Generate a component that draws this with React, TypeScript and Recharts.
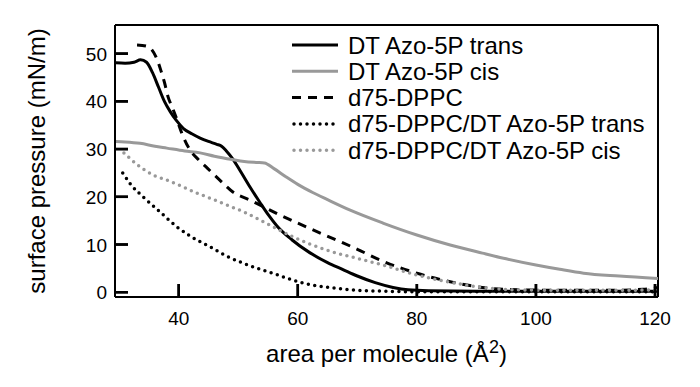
import { LineChart, Line, XAxis, YAxis, Legend, CartesianGrid } from "recharts";

// area per molecule (Å²) -> surface pressure (mN/m)
const transArea = [29.4, 31, 32.5, 33.6, 34.6, 35.6, 36.6, 37.6, 38.6, 39.6, 40.8, 42.2, 43.6, 45, 46.4, 47.2, 48, 49.1, 50.4, 52, 53.7, 55, 56.5, 59, 62, 65, 67.5, 70, 73, 76, 78.5, 82, 90, 100, 110, 120.5];
const transP = [48.1, 48, 48.2, 48.7, 48.2, 46, 43, 40, 37.8, 36, 34.3, 33.2, 32.3, 31.6, 31, 30.6, 29.6, 27.9, 25.3, 22, 18.7, 16.3, 13.9, 11, 8.3, 6.2, 4.8, 3.4, 2, 1, 0.5, 0.3, 0.2, 0.2, 0.2, 0.2];

const cisArea = [29.4, 31, 33.5, 36, 38, 41, 43.6, 46, 49, 51, 53, 54.4, 56, 58, 60, 62.5, 65, 68.8, 74.3, 80, 85.6, 91, 95, 100, 104, 108, 114, 120.5];
const cisP = [31.6, 31.5, 31.2, 30.6, 30.2, 29.6, 29.2, 28.5, 27.8, 27.4, 27.2, 27.1, 25.9, 24.2, 22.6, 20.9, 19.4, 17.2, 14.5, 12, 9.9, 8.2, 7, 5.7, 4.8, 4, 3.4, 2.9];

const dppcArea = [33, 34.5, 35.5, 36.3, 37, 37.6, 38.2, 39, 39.7, 40.5, 41.9, 43.3, 44.8, 46.9, 49.1, 52, 57, 62.1, 67.7, 70, 74.3, 80, 85.6, 91, 97, 105, 112, 118, 120.5];
const dppcP = [51.8, 51.6, 50.8, 49, 46.5, 44, 41, 38.5, 36.2, 33.4, 29.8, 27.8, 26, 23.5, 21, 19.3, 16.2, 13.3, 10.3, 9, 6.5, 4, 2.2, 1, 0.5, 0.4, 0.4, 0.6, 1];

const mixTransArea = [30.6, 32, 34, 36.9, 39.7, 42, 45.3, 48, 50.8, 53.5, 56.5, 59, 61, 63, 66, 70, 75, 80, 90, 100, 110, 120.5];
const mixTransP = [25, 22.5, 20, 16.8, 13.7, 11.7, 9.5, 7.6, 6.1, 4.9, 3.7, 2.6, 1.9, 1.4, 0.9, 0.4, 0.2, 0.1, 0.1, 0.1, 0.1, 0.1];

const mixCisArea = [30.8, 33.5, 36, 38, 40.5, 43, 45.5, 48, 51, 53.7, 56.5, 59.2, 62, 64.9, 70, 74.3, 80, 85.6, 91, 97, 105, 112, 120.5];
const mixCisP = [29.2, 26.3, 24.4, 23.5, 22.2, 20.8, 19.6, 18.3, 16.8, 15.1, 13.3, 11.6, 10.1, 8.8, 7.1, 5.7, 3.6, 2.1, 1, 0.5, 0.4, 0.4, 0.5];

const xTicks = [40, 60, 80, 100, 120];
const yTicks = [0, 10, 20, 30, 40, 50];

const toPoints = (xs: number[], ys: number[]) => xs.map((a, i) => ({ a, v: ys[i] }));

const series = [
  { name: "DT Azo-5P trans", data: toPoints(transArea, transP), color: "#000", width: 3, dash: undefined, cap: "butt" },
  { name: "DT Azo-5P cis", data: toPoints(cisArea, cisP), color: "#999", width: 3, dash: undefined, cap: "butt" },
  { name: "d75-DPPC", data: toPoints(dppcArea, dppcP), color: "#000", width: 3, dash: "9 7", cap: "butt" },
  { name: "d75-DPPC/DT Azo-5P trans", data: toPoints(mixTransArea, mixTransP), color: "#000", width: 3.5, dash: "0 6.5", cap: "round" },
  { name: "d75-DPPC/DT Azo-5P cis", data: toPoints(mixCisArea, mixCisP), color: "#999", width: 3.5, dash: "0 6.5", cap: "round" },
];

const FONT = "'Liberation Sans', Arial, Helvetica, sans-serif";
const TICK_LEN = 13;

// ticks point inward (negative tickSize): the mark is drawn here too, and the label pushed outside
function XTick({ x, y, payload }: any) {
  return (
    <g>
      <path d={`M${x},${y}v${TICK_LEN}`} stroke="#000" strokeWidth={2.5} fill="none" />
      <text x={x} y={y + TICK_LEN + 28} textAnchor="middle" fontSize={19} fontFamily={FONT} fill="#000">
        {payload.value}
      </text>
    </g>
  );
}

function YTick({ x, y, payload }: any) {
  return (
    <g>
      <path d={`M${x - TICK_LEN},${y}h${TICK_LEN}`} stroke="#000" strokeWidth={2.5} fill="none" />
      <text x={x - TICK_LEN - 8} y={y + 7} textAnchor="end" fontSize={19} fontFamily={FONT} fill="#000">
        {payload.value}
      </text>
    </g>
  );
}

function LegendBox() {
  return (
    <svg width={380} height={135} style={{ display: "block" }}>
      {series.map((s, i) => {
        const cy = 15 + i * 26.3;
        return (
          <g key={s.name}>
            <line
              x1={s.cap === "round" ? 6 : 4}
              x2={50}
              y1={cy}
              y2={cy}
              stroke={s.color}
              strokeWidth={s.width}
              strokeDasharray={s.dash}
              strokeLinecap={s.cap as any}
            />
            <text x={60} y={cy + 8.5} fontSize={24} fontFamily={FONT} fill="#000">
              {s.name}
            </text>
          </g>
        );
      })}
    </svg>
  );
}

export default function App() {
  return (
    <div style={{ position: "absolute", left: 0, top: 0, width: 700, height: 387 }}>
      <LineChart width={700} height={387} margin={{ top: 25, right: 42, bottom: 0, left: 0 }}>
        {/* top and right edges of the frame, taken from the plot offset */}
        <CartesianGrid
          stroke="#000"
          strokeWidth={2}
          strokeDasharray=""
          horizontalCoordinatesGenerator={({ offset }: any) => [offset.top]}
          verticalCoordinatesGenerator={({ offset }: any) => [offset.left + offset.width]}
        />
        <XAxis
          type="number"
          dataKey="a"
          domain={[29.3, 120.5]}
          ticks={xTicks}
          interval={0}
          allowDataOverflow
          height={90}
          tickSize={-TICK_LEN}
          tickMargin={0}
          tickLine={{ stroke: "#000", strokeWidth: 2.5 }}
          tick={<XTick />}
          axisLine={{ stroke: "#000", strokeWidth: 2 }}
          label={{
            content: ({ viewBox }: any) => (
              <text
                x={viewBox.x + viewBox.width / 2}
                y={viewBox.y + 65}
                textAnchor="middle"
                fontSize={24}
                fontFamily={FONT}
                fill="#000"
              >
                <tspan>area per molecule (Å</tspan>
                <tspan dy={-9} fontSize={18}>2</tspan>
                <tspan dy={9}>)</tspan>
              </text>
            ),
          }}
        />
        <YAxis
          type="number"
          dataKey="v"
          domain={[-1, 56]}
          ticks={yTicks}
          interval={0}
          allowDataOverflow
          width={115}
          tickSize={-TICK_LEN}
          tickMargin={0}
          tickLine={{ stroke: "#000", strokeWidth: 2.5 }}
          tick={<YTick />}
          axisLine={{ stroke: "#000", strokeWidth: 2 }}
          label={{
            content: ({ viewBox }: any) => {
              const cy = viewBox.y + viewBox.height / 2;
              return (
                <text
                  x={45}
                  y={cy}
                  transform={`rotate(-90, 45, ${cy})`}
                  textAnchor="middle"
                  fontSize={24}
                  fontFamily={FONT}
                  fill="#000"
                >
                  surface pressure (mN/m)
                </text>
              );
            },
          }}
        />
        <Legend
          layout="horizontal"
          verticalAlign="middle"
          align="center"
          content={<LegendBox />}
          wrapperStyle={{ position: "absolute", left: 288, top: 30, width: 380, height: 135 }}
        />
        {series.map((s) => (
          <Line
            key={s.name}
            data={s.data}
            dataKey="v"
            name={s.name}
            type="monotone"
            stroke={s.color}
            strokeWidth={s.width}
            strokeDasharray={s.dash}
            strokeLinecap={s.cap as any}
            dot={false}
            activeDot={false}
            isAnimationActive={false}
          />
        ))}
      </LineChart>
    </div>
  );
}
